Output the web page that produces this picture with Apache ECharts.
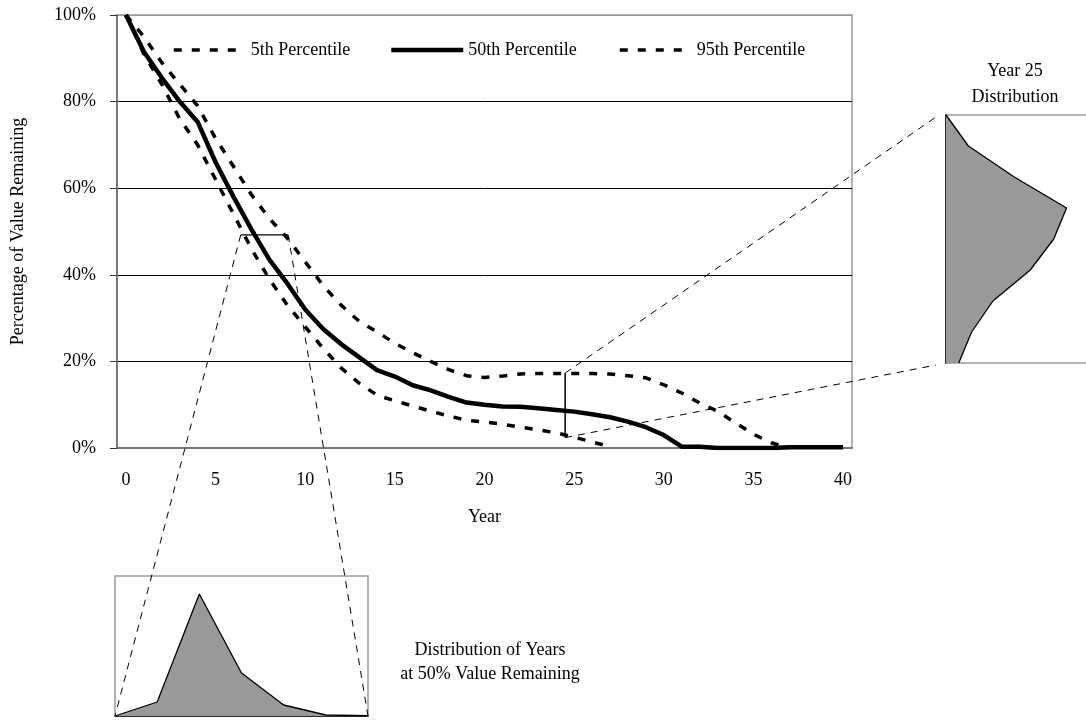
<!DOCTYPE html>
<html>
<head>
<meta charset="utf-8">
<title>Percentage of Value Remaining</title>
<script src="https://cdn.jsdelivr.net/npm/echarts@6/dist/echarts.min.js"></script>
<style>
html, body { margin: 0; padding: 0; background: #fff; }
#main { width: 1086px; height: 721px; }
</style>
</head>
<body>
<div id="main"></div>
<script>
// years on the category axis
var years = ['0','1','2','3','4','5','6','7','8','9','10','11','12','13','14','15','16','17','18','19','20',
             '21','22','23','24','25','26','27','28','29','30','31','32','33','34','35','36','37','38','39','40'];

// percentage of value remaining
var p5  = [100, 91, 84, 76, 70, 62, 54, 46, 39, 33, 28, 23, 18.5, 15, 12.2, 10.9, 9.7, 8.5, 7.4, 6.4, 6,
           5.5, 4.8, 4.2, 3.5, 2.5, 1.4, 0.3, null, null, null, null, null, null, null, null, null, null, null, null, null];
var p50 = [100, 91.5, 85.5, 80, 75.3, 66, 58, 50.5, 43.5, 38, 32, 27.5, 24, 21, 18, 16.5, 14.5, 13.3, 11.8, 10.5, 10,
           9.6, 9.5, 9.2, 8.8, 8.4, 7.8, 7.1, 6.1, 4.8, 3, 0.3, 0.3, 0, 0, 0, 0, 0.2, 0.2, 0.2, 0.2];
var p95 = [100, 95, 89, 84, 79, 71.5, 65, 58.5, 53, 48.5, 43, 37.5, 33, 29.3, 26.8, 24.2, 22, 20, 18.1, 16.7, 16.3,
           16.6, 17.1, 17.2, 17.2, 17.2, 17.2, 17.1, 16.7, 16.2, 14.6, 12.7, 10.4, 8.5, 5.8, 3.2, 1.2, 0, null, null, null];

// inset: distribution of years at 50% value remaining (bins, relative frequency)
var binsAt50 = ['b1','b2','b3','b4','b5','b6','b7'];
var distAt50 = [0, 14, 122, 43, 11, 1, 0.3];

// inset: year 25 distribution (top to bottom)
var bins25 = ['c1','c2','c3','c4','c5','c6','c7','c8','c9'];
var dist25 = [0, 21, 64, 113, 101, 79, 44, 24, 12];

// annotation marks (year, value %)
var markYear = 24.5, markTop = 17.3, markBot = 2.4;
var halfLevel = 49.2, halfFrom = 6.4, halfTo = 9.05;

var serif = '"Liberation Serif", "Times New Roman", serif';
var chart = echarts.init(document.getElementById('main'));

function legendAt(left, name, width, dash) {
  return {
    left: left, top: 36, orient: 'horizontal',
    itemWidth: 72, itemHeight: 14,
    data: [name],
    itemStyle: { opacity: 0 },
    lineStyle: { width: width, type: dash },
    textStyle: { fontFamily: serif, fontSize: 18, color: '#000' }
  };
}

var option = {
  animation: false,
  textStyle: { fontFamily: serif, color: '#000' },
  legend: [
    legendAt(167, '5th Percentile', 3.5, [8, 10]),
    legendAt(384, '50th Percentile', 4.5, 'solid'),
    legendAt(613, '95th Percentile', 3.5, [8, 10])
  ],
  grid: [
    { left: 117, top: 15, width: 735, height: 433, show: true, borderColor: '#999', borderWidth: 1.5, outerBoundsMode: 'none' },
    { left: 115, top: 576, width: 253, height: 140, show: true, borderColor: '#999', borderWidth: 1.5, outerBoundsMode: 'none' },
    { left: 946, top: 115, width: 160, height: 248, show: true, borderColor: '#999', borderWidth: 1.5, outerBoundsMode: 'none' }
  ],
  xAxis: [
    {
      gridIndex: 0, type: 'category', data: years, boundaryGap: true,
      name: 'Year', nameLocation: 'middle', nameGap: 60,
      nameTextStyle: { fontFamily: serif, fontSize: 18, color: '#000' },
      axisLine: { lineStyle: { color: '#777', width: 2 } },
      axisTick: { interval: 4, length: 6, lineStyle: { color: '#333', width: 1 } },
      axisLabel: { interval: 4, margin: 23, fontFamily: serif, fontSize: 18, color: '#000' },
      splitLine: { show: false }
    },
    {
      gridIndex: 1, type: 'category', data: binsAt50, boundaryGap: false,
      axisLine: { lineStyle: { color: '#000', width: 1.5 } },
      axisTick: { show: false }, axisLabel: { show: false }, splitLine: { show: false }
    },
    {
      gridIndex: 2, type: 'value', min: 0, max: 150,
      axisLine: { show: false }, axisTick: { show: false }, axisLabel: { show: false }, splitLine: { show: false }
    }
  ],
  yAxis: [
    {
      gridIndex: 0, type: 'value', min: 0, max: 100, interval: 20,
      name: 'Percentage of Value Remaining', nameLocation: 'middle', nameGap: 90, nameRotate: 90,
      nameTextStyle: { fontFamily: serif, fontSize: 18, color: '#000' },
      axisLine: { show: true, lineStyle: { color: '#777', width: 2 } },
      axisTick: { show: true, length: 7, lineStyle: { color: '#333', width: 1 } },
      axisLabel: { formatter: '{value}%', margin: 21, fontFamily: serif, fontSize: 18, color: '#000' },
      splitLine: { show: true, lineStyle: { color: ['#777', '#000', '#000', '#000', '#000', '#999'], width: 1 } }
    },
    {
      gridIndex: 1, type: 'value', min: 0, max: 140,
      axisLine: { show: false }, axisTick: { show: false }, axisLabel: { show: false }, splitLine: { show: false }
    },
    {
      gridIndex: 2, type: 'category', data: bins25, boundaryGap: false, inverse: true,
      axisLine: { show: true, lineStyle: { color: '#000', width: 1.5 } },
      axisTick: { show: false }, axisLabel: { show: false }, splitLine: { show: false }
    }
  ],
  series: [
    {
      name: '5th Percentile', type: 'line', xAxisIndex: 0, yAxisIndex: 0, data: p5,
      symbol: 'none', itemStyle: { color: '#000' },
      lineStyle: { color: '#000', width: 3.5, type: [8, 10] }, z: 3
    },
    {
      name: '50th Percentile', type: 'line', xAxisIndex: 0, yAxisIndex: 0, data: p50,
      symbol: 'none', itemStyle: { color: '#000' },
      lineStyle: { color: '#000', width: 4.5 }, z: 4
    },
    {
      name: '95th Percentile', type: 'line', xAxisIndex: 0, yAxisIndex: 0, data: p95,
      symbol: 'none', itemStyle: { color: '#000' },
      lineStyle: { color: '#000', width: 3.5, type: [8, 10] }, z: 3
    },
    {
      name: 'Distribution of Years at 50%', type: 'line', xAxisIndex: 1, yAxisIndex: 1, data: distAt50,
      symbol: 'none', lineStyle: { color: '#000', width: 1.3 },
      areaStyle: { color: '#999', opacity: 1 }
    },
    {
      name: 'Year 25 Distribution', type: 'line', xAxisIndex: 2, yAxisIndex: 2, data: dist25,
      symbol: 'none', lineStyle: { color: '#000', width: 1.3 },
      areaStyle: { color: '#999', opacity: 1 }
    }
  ]
};
chart.setOption(option);

// annotation lines placed through the axes
function mainPx(year, val) {
  var a = chart.convertToPixel({ gridIndex: 0 }, [0, val]);
  var b = chart.convertToPixel({ gridIndex: 0 }, [1, val]);
  return [a[0] + (b[0] - a[0]) * year, a[1]];
}
var vTop = mainPx(markYear, markTop);
var vBot = mainPx(markYear, markBot);
var hL = mainPx(halfFrom, halfLevel);
var hR = mainPx(halfTo, halfLevel);
var r25Top = chart.convertToPixel({ gridIndex: 2 }, [0, 0]);
var r25Bot = chart.convertToPixel({ gridIndex: 2 }, [0, bins25.length - 1]);
var b50L = chart.convertToPixel({ gridIndex: 1 }, [0, 0]);
var b50R = chart.convertToPixel({ gridIndex: 1 }, [binsAt50.length - 1, 0]);

function seg(p, q, dashed, w) {
  return {
    type: 'line', z: 10, silent: true,
    shape: { x1: p[0], y1: p[1], x2: q[0], y2: q[1] },
    style: { stroke: '#000', lineWidth: w, lineDash: dashed ? [7, 6] : null }
  };
}
function label(txt, x, y) {
  return {
    type: 'text', z: 10, silent: true,
    style: { text: txt, x: x, y: y, textAlign: 'center', textVerticalAlign: 'middle',
             font: '18px ' + serif, fill: '#000' }
  };
}

chart.setOption({
  graphic: [
    seg(vTop, vBot, false, 1.5),
    seg(hL, hR, false, 1.3),
    seg(vTop, [r25Top[0] - 10, r25Top[1] + 2], true, 1),
    seg(vBot, [r25Bot[0] - 10, r25Bot[1] + 2], true, 1),
    seg(hL, b50L, true, 1),
    seg(hR, b50R, true, 1),
    label('Year 25', 1015, 71),
    label('Distribution', 1015, 97),
    label('Distribution of Years', 490, 650),
    label('at 50% Value Remaining', 490, 674)
  ]
});
</script>
</body>
</html>
